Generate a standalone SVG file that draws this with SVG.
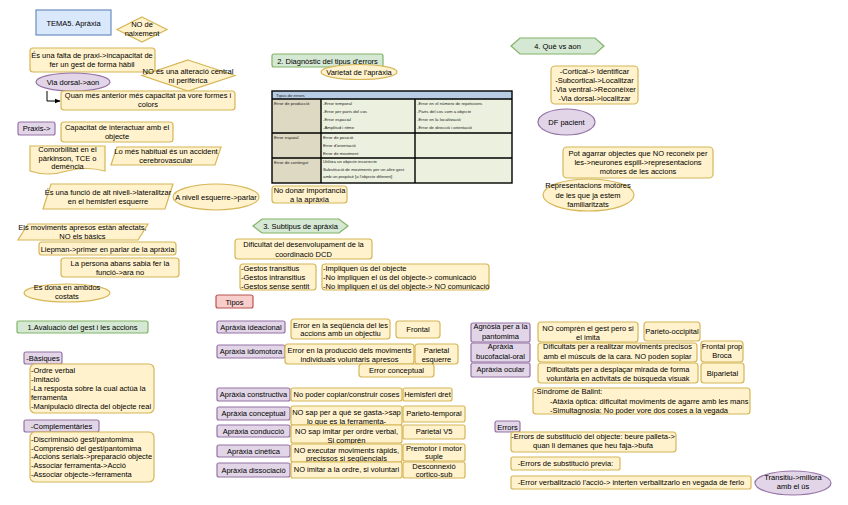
<svg xmlns="http://www.w3.org/2000/svg" width="848" height="505" viewBox="0 0 848 505">
<defs>
<style>
.y{fill:#fff2cc;stroke:#d6b656;stroke-width:1.2}
.p{fill:#e1d5e7;stroke:#9673a6;stroke-width:1.2}
.g{fill:#d5e8d4;stroke:#82b366;stroke-width:1.2}
.r{fill:#f8cecc;stroke:#b85450;stroke-width:1.2}
.b{fill:#dae8fc;stroke:#6c8ebf;stroke-width:1.2}
text{font-family:"Liberation Sans",Arial,sans-serif;font-size:7.5px;fill:#000}
.c{text-anchor:middle}
.t{font-size:4.3px;fill:#222}
.tb{stroke:#000;stroke-width:1.4;fill:none}
</style>
<marker id="ar" viewBox="0 0 10 10" refX="9" refY="5" markerWidth="6" markerHeight="6" orient="auto"><path d="M0,1 L10,5 L0,9 z" fill="#000"/></marker>
</defs>
<rect width="848" height="505" fill="#fff"/>

<g id="connectors">
<path d="M47,91 V101 H60" fill="none" stroke="#000" stroke-width="1" marker-end="url(#ar)"/>
</g>

<g id="tema"><rect class="b" x="36" y="10" width="75" height="25"/><text class="c" x="73.5" y="25.5">TEMA5. Apràxia</text></g>
<g id="naixement"><polygon class="y" points="142,17 167,29.5 142,42 117,29.5"/><text class="c" x="142" y="27">NO de</text><text class="c" x="142" y="36">naixement</text></g>
<g id="falta"><rect class="y" x="30" y="48" width="125" height="24" rx="3"/><text class="c" x="92" y="57.5">És una falta de praxi-&gt;incapacitat de</text><text class="c" x="92" y="66.5">fer un gest de forma hàbil</text></g>
<g id="alteracio"><polygon class="y" points="188,60 235,75.5 188,91 142,75.5"/><text class="c" x="188" y="73.5">NO és una alteració central</text><text class="c" x="188" y="82.5">ni perifèrica</text></g>
<g id="viadorsal"><ellipse class="p" cx="73" cy="82" rx="37" ry="9"/><text class="c" x="73" y="84.5">Via dorsal-&gt;aon</text></g>
<g id="anterior"><rect class="y" x="61" y="91" width="174" height="19" rx="3"/><text class="c" x="148" y="98">Quan més anterior més capacitat pa vore formes i</text><text class="c" x="148" y="107">colors</text></g>
<g id="praxis"><rect class="p" x="18" y="122" width="37" height="13" rx="2"/><text class="c" x="36.5" y="131">Praxis-&gt;</text></g>
<g id="capacitat"><rect class="y" x="61" y="122" width="112" height="20" rx="3"/><text class="c" x="117" y="129.5">Capacitat de interactuar amb el</text><text class="c" x="117" y="138.5">objecte</text></g>
<g id="comorbilitat"><path class="y" d="M30,146 H105 V171 Q86,166 67,171 Q48,177 30,171 Z"/><text class="c" x="67.5" y="152">Comorbilitat en el</text><text class="c" x="67.5" y="160.5">pàrkinson, TCE o</text><text class="c" x="67.5" y="169">demència</text></g>
<g id="habitual"><polygon class="y" points="117,147 221,147 215,165 111,165"/><text class="c" x="166" y="154.3">Lo més habitual és un accident</text><text class="c" x="166" y="163.3">cerebrovascular</text></g>
<g id="funcio"><polygon class="y" points="51,184 173,184 165,209 43,209"/><text class="c" x="108" y="195">És una funció de alt nivell-&gt;lateralitzar</text><text class="c" x="108" y="204">en el hemisferi esquerre</text></g>
<g id="parlar"><ellipse class="y" cx="216" cy="197" rx="43" ry="13"/><text class="c" x="216" y="199.5">A nivell esquerre-&gt;parlar</text></g>
<g id="apresos"><polygon class="y" points="28,224 148,224 138,240 18,240"/><text class="c" x="82.5" y="230">Els moviments apresos estàn afectats,</text><text class="c" x="82.5" y="239">NO els bàsics</text></g>
<g id="liepman"><rect class="y" x="39" y="242" width="137" height="13" rx="3"/><text class="c" x="107.5" y="251.5">Liepman-&gt;primer en parlar de la apràxia</text></g>
<g id="persona"><rect class="y" x="61" y="258" width="118" height="19" rx="3"/><text class="c" x="120" y="266">La persona abans sabia fer la</text><text class="c" x="120" y="275">funció-&gt;ara no</text></g>
<g id="ambdos"><ellipse class="y" cx="67" cy="293" rx="43" ry="9"/><text class="c" x="67" y="290">Es dona en ambdos</text><text class="c" x="67" y="299">costats</text></g>
<g id="avaluacio"><rect class="g" x="17" y="321" width="131" height="12" rx="2"/><text class="c" x="82.5" y="329.5">1.Avaluació del gest i les accions</text></g>
<g id="basiques"><rect class="p" x="24" y="352" width="38" height="12" rx="2"/><text class="c" x="43" y="360.5">-Bàsiques</text></g>
<g id="basiques-list"><rect class="y" x="30" y="364" width="124" height="49" rx="5"/><text x="31" y="373">-Ordre verbal</text><text x="31" y="382">-Imitació</text><text x="31" y="391">-La resposta sobre la cual actúa la</text><text x="31" y="400">ferramenta</text><text x="31" y="409">-Manipulació directa del objecte real</text></g>
<g id="complementaries"><rect class="p" x="24" y="420" width="75" height="12" rx="2"/><text class="c" x="61.5" y="429">-Complementàries</text></g>
<g id="complementaries-list"><rect class="y" x="30" y="432" width="124" height="50" rx="5"/><text x="31" y="441.5">-Discriminació gest/pantomima</text><text x="31" y="450.5">-Comprensió del gest/pantomima</text><text x="31" y="459">-Accions serials-&gt;preparació objecte</text><text x="31" y="468">-Associar ferramenta-&gt;Acció</text><text x="31" y="476.5">-Associar objecte-&gt;ferramenta</text></g>

<g id="diagnostic"><rect class="g" x="272" y="54" width="111" height="13" rx="2"/><text class="c" x="327.5" y="63.5">2. Diagnòstic del tipus d'errors</text></g>
<g id="varietat"><ellipse class="y" cx="359" cy="72" rx="38" ry="7.5"/><text class="c" x="359" y="74.5">Varietat de l'apràxia</text></g>
<g id="taula">
<rect x="272" y="91" width="240" height="8" fill="#b8cce4"/>
<rect x="272" y="99" width="49" height="84" fill="#ddd9c3"/>
<rect x="321" y="99" width="191" height="84" fill="#ebf1de"/>
<rect class="tb" x="272" y="91" width="240" height="92"/>
<path class="tb" d="M272,99 H512 M272,133 H512 M272,158 H512 M321,99 V183 M415,99 V183"/>
<text class="t" x="276" y="97">Tipus de errors</text>
<text class="t" x="274" y="105">Error de producció</text>
<text class="t" x="323" y="105">-Error temporal</text><text class="t" x="323" y="113">-Error per parts del cos</text><text class="t" x="323" y="120.5">-Error espacial</text><text class="t" x="323" y="128.5">-Amplitud i ritme</text>
<text class="t" x="417" y="105">-Error en el número de repeticions</text><text class="t" x="417" y="113">-Parts del cos com a objecte</text><text class="t" x="417" y="120.5">-Error en la localització</text><text class="t" x="417" y="128.5">-Error de direcció i orientació</text>
<text class="t" x="274" y="139">Error espaial</text>
<text class="t" x="323" y="139">Error de posició</text><text class="t" x="323" y="147">Error d'orientació</text><text class="t" x="323" y="154.5">Error de moviment</text>
<text class="t" x="274" y="164">Error de contingut</text>
<text class="t" x="323" y="162.5">Utilitza un objecte incorrecte</text><text class="t" x="323" y="171">Substitució de moviments per un altre gest</text><text class="t" x="323" y="178">amb un propòsit [a l'objecte diferent]</text>
</g>
<g id="nodonar"><rect class="y" x="272" y="186" width="75" height="17" rx="3"/><text class="c" x="309.5" y="193.3">No donar importancia</text><text class="c" x="309.5" y="202">a la apràxia</text></g>
<g id="subtipus"><polygon class="g" points="253,226 262,219 339,219 348,226 339,233 262,233"/><text class="c" x="300.5" y="228.6">3. Subtipus de apràxia</text></g>
<g id="dcd"><rect class="y" x="235" y="239" width="137" height="20" rx="3"/><text class="c" x="303.5" y="247">Dificultat del desenvolupament de la</text><text class="c" x="303.5" y="256.5">coordinació DCD</text></g>
<g id="gestos"><rect class="y" x="240" y="264" width="76" height="26" rx="3"/><text x="241" y="271">-Gestos transitius</text><text x="241" y="280">-Gestos intransitius</text><text x="241" y="288.6">-Gestos sense sentit</text></g>
<g id="impliquen"><rect class="y" x="322" y="264" width="167" height="26" rx="3"/><text x="323" y="271">-Impliquen ús del objecte</text><text x="323" y="280">-No impliquen el ús del objecte-&gt; comunicació</text><text x="323" y="288.6">-No impliquen el ús del objecte-&gt; NO comunicació</text></g>
<g id="tipos"><rect class="r" x="216" y="295" width="37" height="13" rx="2"/><text class="c" x="234.5" y="304.5">Tipos</text></g>

<g id="ideacional"><rect class="p" x="217" y="321" width="68" height="12" rx="2"/><text class="c" x="251" y="329.5">Apràxia ideacional</text></g>
<g id="ideacional-def"><rect class="y" x="291" y="319" width="99" height="20" rx="3"/><text class="c" x="340.5" y="327.6">Error en la seqüència del les</text><text class="c" x="340.5" y="336">accions amb un objectiu</text></g>
<g id="ideacional-loc"><rect class="y" x="396" y="321" width="44" height="17" rx="3"/><text class="c" x="418" y="332">Frontal</text></g>
<g id="idiomotora"><rect class="p" x="217" y="345" width="68" height="13" rx="2"/><text class="c" x="251" y="354">Apràxia idiomotora</text></g>
<g id="idiomotora-def"><rect class="y" x="285" y="344" width="129" height="20" rx="3"/><text class="c" x="349.5" y="352.6">Error en la producció dels moviments</text><text class="c" x="349.5" y="362">individuals voluntaris apresos</text></g>
<g id="idiomotora-loc"><rect class="y" x="415" y="344" width="43" height="20" rx="3"/><text class="c" x="436.5" y="352.6">Parietal</text><text class="c" x="436.5" y="362">esquerre</text></g>
<g id="conceptual-err"><rect class="y" x="359" y="364" width="75" height="13" rx="3"/><text class="c" x="396.5" y="373">Error conceptual</text></g>
<g id="constructiva"><rect class="p" x="217" y="388" width="73" height="13" rx="2"/><text class="c" x="253.5" y="397">Apràxia constructiva</text></g>
<g id="constructiva-def"><rect class="y" x="291" y="388" width="111" height="13" rx="2"/><text class="c" x="346.5" y="397">No poder copiar/construir coses</text></g>
<g id="constructiva-loc"><rect class="y" x="403" y="388" width="49" height="13" rx="2"/><text class="c" x="427.5" y="397">Hemisferi dret</text></g>
<g id="conceptual"><rect class="p" x="217" y="407" width="73" height="13" rx="2"/><text class="c" x="253.5" y="416">Apràxia conceptual</text></g>
<g id="conceptual-def"><rect class="y" x="291" y="406" width="111" height="19" rx="2"/><text class="c" x="346.5" y="415.3">NO sap per a què se gasta-&gt;sap</text><text class="c" x="346.5" y="423.6">lo que es la ferramenta-</text></g>
<g id="conceptual-loc"><rect class="y" x="403" y="406" width="62" height="16" rx="2"/><text class="c" x="434" y="416">Parieto-temporal</text></g>
<g id="conduccio"><rect class="p" x="217" y="425" width="73" height="12" rx="2"/><text class="c" x="253.5" y="434">Apràxia conducció</text></g>
<g id="conduccio-def"><rect class="y" x="291" y="425" width="111" height="18" rx="2"/><text class="c" x="346.5" y="434.3">NO sap imitar per ordre verbal,</text><text class="c" x="346.5" y="442.6">Si comprèn</text></g>
<g id="conduccio-loc"><rect class="y" x="403" y="425" width="62" height="14" rx="2"/><text class="c" x="434" y="434">Parietal V5</text></g>
<g id="cinetica"><rect class="p" x="217" y="445" width="73" height="12" rx="2"/><text class="c" x="253.5" y="453.5">Apràxia cinètica</text></g>
<g id="cinetica-def"><rect class="y" x="291" y="444" width="111" height="18" rx="2"/><text class="c" x="346.5" y="453.3">NO executar moviments ràpids,</text><text class="c" x="346.5" y="461">precissos si seqüencials</text></g>
<g id="cinetica-loc"><rect class="y" x="403" y="444" width="62" height="17" rx="2"/><text class="c" x="434" y="451.2">Premotor i motor</text><text class="c" x="434" y="459.4">suple</text></g>
<g id="dissociacio"><rect class="p" x="217" y="463" width="73" height="14" rx="2"/><text class="c" x="253.5" y="472.5">Apràxia dissociació</text></g>
<g id="dissociacio-def"><rect class="y" x="291" y="462" width="111" height="16" rx="2"/><text class="c" x="346.5" y="472">NO imitar a la ordre, si voluntari</text></g>
<g id="dissociacio-loc"><rect class="y" x="403" y="462" width="62" height="16" rx="2"/><text class="c" x="434" y="469.2">Desconnexió</text><text class="c" x="434" y="477.4">cortico-sub</text></g>

<g id="quevsaon"><polygon class="g" points="511,46 520,38 595,38 604,46 595,54 520,54"/><text class="c" x="557.5" y="48.6">4. Què vs aon</text></g>
<g id="vies"><rect class="y" x="551" y="66" width="87" height="38" rx="4"/><text class="c" x="594.5" y="73.6">-Cortical-&gt; Identificar</text><text class="c" x="594.5" y="82.6">-Subcortical-&gt;Localitzar</text><text class="c" x="594.5" y="92">-Via ventral-&gt;Reconèixer</text><text class="c" x="594.5" y="101">-Via dorsal-&gt;localitzar</text></g>
<g id="dfpacient"><ellipse class="p" cx="566.5" cy="122" rx="28.5" ry="13"/><text class="c" x="566.5" y="124.6">DF pacient</text></g>
<g id="agarrar"><rect class="y" x="563" y="147" width="150" height="31" rx="4"/><text class="c" x="638" y="156">Pot agarrar objectes que NO reconeix per</text><text class="c" x="638" y="165">les-&gt;neurones espill-&gt;representacions</text><text class="c" x="638" y="174.3">motores de les accions</text></g>
<g id="representacions"><ellipse class="y" cx="588.5" cy="195" rx="45.5" ry="16"/><text class="c" x="588" y="188.3">Representacions motores</text><text class="c" x="588" y="197.6">de les que ja estem</text><text class="c" x="588" y="206.6">familiaritzats</text></g>

<g id="agnosia"><rect class="p" x="471" y="323" width="59" height="19" rx="2"/><text class="c" x="500.5" y="328.6">Agnòsia per a la</text><text class="c" x="500.5" y="338.6">pantomima</text></g>
<g id="agnosia-def"><rect class="y" x="538" y="322" width="100" height="20" rx="3"/><text class="c" x="588" y="331">NO comprèn el gest pero si</text><text class="c" x="588" y="340">el imita</text></g>
<g id="agnosia-loc"><rect class="y" x="644" y="322" width="56" height="19" rx="3"/><text class="c" x="672" y="334">Parieto-occipital</text></g>
<g id="bucofacial"><rect class="p" x="471" y="343" width="59" height="19" rx="2"/><text class="c" x="500.5" y="349.3">Apràxia</text><text class="c" x="500.5" y="358.6">bucofacial-oral</text></g>
<g id="bucofacial-def"><rect class="y" x="538" y="343" width="159" height="19" rx="3"/><text class="c" x="617.5" y="349.3">Dificultats per a realitzar moviments precisos</text><text class="c" x="617.5" y="359.3">amb el músculs de la cara. NO poden soplar</text></g>
<g id="bucofacial-loc"><rect class="y" x="701" y="341" width="42" height="21" rx="3"/><text class="c" x="722" y="348.6">Frontal prop</text><text class="c" x="722" y="357.6">Broca</text></g>
<g id="ocular"><rect class="p" x="471" y="363" width="59" height="14" rx="2"/><text class="c" x="500.5" y="372">Apràxia ocular</text></g>
<g id="ocular-def"><rect class="y" x="538" y="363" width="160" height="20" rx="3"/><text class="c" x="618" y="372">Dificultats per a desplaçar mirada de forma</text><text class="c" x="618" y="381">voluntària en activitats de búsqueda visuak</text></g>
<g id="ocular-loc"><rect class="y" x="701" y="363" width="43" height="20" rx="3"/><text class="c" x="722.5" y="375.5">Biparietal</text></g>
<g id="balint"><rect class="y" x="533" y="388" width="217" height="26" rx="3"/><text x="534" y="394.3">-Síndrome de Balint:</text><text x="550" y="403.6">-Atàxia òptica: dificultat moviments de agarre amb les mans</text><text x="550" y="412.6">-Simultagnosia: No poder vore dos coses a la vegada</text></g>
<g id="errors"><rect class="p" x="495" y="421" width="25" height="11" rx="2"/><text class="c" x="507.5" y="429.5">Errors</text></g>
<g id="errors-objecte"><rect class="y" x="511" y="432" width="165" height="20" rx="3"/><text class="c" x="593" y="439.3">-Errors de substitució del objecte: beure palleta-&gt;</text><text class="c" x="593" y="448.3">quan li demanes que heu faja-&gt;bufa</text></g>
<g id="errors-previa"><rect class="y" x="511" y="457" width="109" height="13" rx="2"/><text class="c" x="565.5" y="466">-Errors de substitució previa:</text></g>
<g id="errors-verbal"><rect class="y" x="511" y="476" width="240" height="13" rx="2"/><text class="c" x="631" y="485">-Error verbalització l'acció-&gt; interten verbalitzarlo en vegada de ferlo</text></g>
<g id="transitiu"><ellipse class="p" cx="793" cy="483" rx="38" ry="12"/><text class="c" x="793" y="480">Transitiu-&gt;millora</text><text class="c" x="793" y="489.3">amb el ús</text></g>
</svg>
